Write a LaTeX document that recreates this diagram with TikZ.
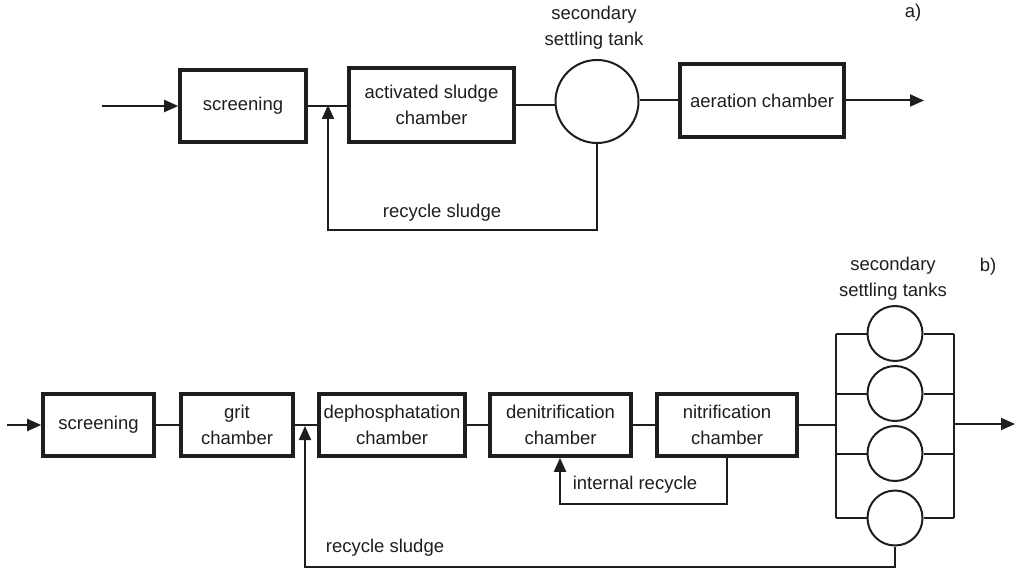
\documentclass[tikz,border=0pt]{standalone}
\usepackage{fontspec}
\setmainfont{Liberation Sans}
\usetikzlibrary{arrows.meta}
\definecolor{ink}{HTML}{1E1E1E}
\begin{document}
\begin{tikzpicture}[x=1pt,y=-1pt,
  txt/.style={font=\fontsize{18.5}{26}\selectfont, text=ink, align=center, inner sep=0pt},
  box/.style={txt, draw=ink, line width=3.6pt, fill=white},
  tank/.style={circle, draw=ink, line width=2pt, inner sep=0pt, fill=white},
  flow/.style={draw=ink, line width=2pt},
  arr/.style={-{Triangle[length=14pt,width=12pt]}}]
\useasboundingbox (0,0) rectangle (1024,569);
% ---------- panel a ----------
\coordinate (inA) at (102,106);
\node[box, minimum width=126pt, minimum height=72pt] (scrA) at (243,106) {screening};
\node[box, minimum width=165pt, minimum height=74pt] (actA) at (431.5,105) {activated sludge\\chamber};
\node[tank, minimum size=83pt] (tankA) at (597,101.5) {};
\node[box, minimum width=164pt, minimum height=73pt] (aerA) at (762,100.5) {aeration chamber};
\coordinate (outA) at (924,100.5);
\coordinate (jA) at (328,105);
\coordinate (botA) at (328,230);
\draw[flow, arr] (inA) -- (scrA.west);
\draw[flow] (scrA.east) -- (scrA.east -| actA.west);
\draw[flow] (actA.east) -- (actA.east -| tankA.west);
\draw[flow] (aerA.west -| tankA.east) -- (aerA.west);
\draw[flow, arr] (aerA.east) -- (outA);
\draw[flow, arr] (tankA.south) |- (botA) -- (jA);
\node[txt] (recA) at (442,213) {recycle sludge};
\node[txt] (labTankA) at (594,28) {secondary\\settling tank};
\node[txt] (la) at (913,13) {a)};
% ---------- panel b ----------
\coordinate (inB) at (7,425);
\node[box, minimum width=111pt, minimum height=62pt] (scrB) at (98.5,425) {screening};
\node[box, minimum width=112pt, minimum height=62pt] (gritB) at (237,425) {grit\\chamber};
\node[box, minimum width=146pt, minimum height=62pt] (depB) at (392,425) {dephosphatation\\chamber};
\node[box, minimum width=141pt, minimum height=62pt] (denB) at (560.5,425) {denitrification\\chamber};
\node[box, minimum width=140pt, minimum height=62pt] (nitB) at (727,425) {nitrification\\chamber};
\node[tank, minimum size=55pt] (t1) at (895,333.5) {};
\node[tank, minimum size=55pt] (t2) at (895,393.5) {};
\node[tank, minimum size=55pt] (t3) at (895,453.5) {};
\node[tank, minimum size=55pt] (t4) at (895,518) {};
\coordinate (busLT) at (836,333.5);
\coordinate (busLB) at (836,518);
\coordinate (busRT) at (954,333.5);
\coordinate (busRB) at (954,518);
\coordinate (busIn) at (836,424);
\coordinate (busOut) at (954,424);
\coordinate (outB) at (1015,424);
\coordinate (jB) at (305,426);
\coordinate (botB) at (305,567);
\coordinate (irB) at (560,504);
\draw[flow, arr] (inB) -- (scrB.west);
\draw[flow] (scrB.east) -- (gritB.west);
\draw[flow] (gritB.east) -- (depB.west);
\draw[flow] (depB.east) -- (denB.west);
\draw[flow] (denB.east) -- (nitB.west);
\draw[flow] (nitB.east) -- (nitB.east -| busIn);
\draw[flow] (busLT) -- (busLB);
\draw[flow] (busRT) -- (busRB);
\foreach \t in {t1,t2,t3,t4}{
  \draw[flow] (\t.west -| busLT) -- (\t.west);
  \draw[flow] (\t.east) -- (\t.east -| busRT);
}
\draw[flow, arr] (busOut) -- (outB);
\draw[flow, arr] (nitB.south) |- (irB) -- (irB |- denB.south);
\draw[flow, arr] (t4.south) |- (botB) -- (jB);
\node[txt] (irLab) at (635,485) {internal recycle};
\node[txt] (recB) at (385,548) {recycle sludge};
\node[txt] (labTanksB) at (893,279) {secondary\\settling tanks};
\node[txt] (lb) at (988,267) {b)};
\end{tikzpicture}
\end{document}
